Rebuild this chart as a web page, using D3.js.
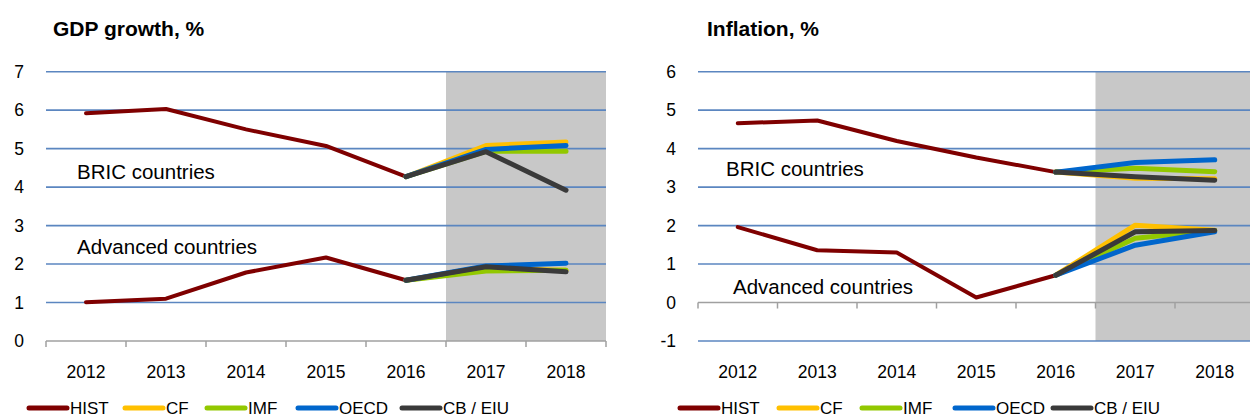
<!DOCTYPE html>
<html>
<head>
<meta charset="utf-8">
<script src="https://cdn.jsdelivr.net/npm/d3@7"></script>
<style>
  body { margin: 0; background: #fff; }
  svg { display: block; font-family: 'Liberation Sans', Arial, sans-serif; }
</style>
</head>
<body>
<svg width="1250" height="417"></svg>
<script>
// data
const years = ['2012', '2013', '2014', '2015', '2016', '2017', '2018']
const forecastYears = ['2016', '2017', '2018']
const seriesNames = ['HIST', 'CF', 'IMF', 'OECD', 'CB / EIU']
const seriesColors = ['#7f0000', '#ffc000', '#92c800', '#0066cc', '#3a3a3a']

// GDP growth
const gdpBricHist = [5.92, 6.03, 5.5, 5.07, 4.27]
const gdpBricCF = [4.27, 5.08, 5.17]
const gdpBricIMF = [4.27, 4.93, 4.93]
const gdpBricOECD = [4.27, 4.98, 5.08]
const gdpBricCB = [4.27, 4.92, 3.92]
const gdpAdvHist = [1.01, 1.1, 1.78, 2.17, 1.58]
const gdpAdvCF = [1.58, 1.88, 1.84]
const gdpAdvIMF = [1.58, 1.82, 1.84]
const gdpAdvOECD = [1.58, 1.95, 2.02]
const gdpAdvCB = [1.58, 1.93, 1.8]
const gdpTicks = [0, 1, 2, 3, 4, 5, 6, 7]

// Inflation
const infBricHist = [4.66, 4.73, 4.2, 3.77, 3.39]
const infBricCF = [3.39, 3.23, 3.22]
const infBricIMF = [3.39, 3.49, 3.4]
const infBricOECD = [3.39, 3.64, 3.71]
const infBricCB = [3.39, 3.27, 3.18]
const infAdvHist = [1.96, 1.36, 1.3, 0.13, 0.71]
const infAdvCF = [0.71, 2.01, 1.88]
const infAdvIMF = [0.71, 1.67, 1.87]
const infAdvOECD = [0.71, 1.49, 1.84]
const infAdvCB = [0.71, 1.84, 1.87]
const infTicks = [-1, 0, 1, 2, 3, 4, 5, 6]

const svg = d3.select('svg')

const drawChart = (o) => {
    const g = svg.append('g')
    const x = d3.scaleBand().domain(years).range([o.left, o.left + o.band * years.length])
    const y = d3.scaleLinear().domain([o.ticks[0], o.ticks[o.ticks.length - 1]]).range([341, 71.7])
    const cx = d => x(d) + x.bandwidth() / 2

    // title
    g.append('text')
        .attr('x', o.titleX).attr('y', 36)
        .attr('font-size', 21).attr('font-weight', 'bold')
        .text(o.title)

    // forecast shading
    g.append('rect')
        .attr('x', x('2017')).attr('y', y.range()[1])
        .attr('width', x.bandwidth() * 2).attr('height', y.range()[0] - y.range()[1])
        .attr('fill', '#c8c8c8')

    // grid
    g.selectAll('.grid').data(o.ticks.filter(t => t !== 0)).enter().append('line')
        .attr('x1', o.left).attr('x2', o.left + o.band * years.length)
        .attr('y1', d => y(d)).attr('y2', d => y(d))
        .attr('stroke', '#5b86c0').attr('stroke-width', 1.6)

    // y labels
    g.selectAll('.ylab').data(o.ticks).enter().append('text')
        .attr('x', o.left - 22).attr('y', d => y(d) + 6)
        .attr('text-anchor', 'end').attr('font-size', 17.5)
        .text(d => d)

    // x axis at zero
    const y0 = y(0)
    g.append('line')
        .attr('x1', o.left).attr('x2', o.left + o.band * years.length)
        .attr('y1', y0).attr('y2', y0)
        .attr('stroke', '#a0a0a0').attr('stroke-width', 1.5)
    const edges = years.map(d => x(d)).concat([x(years[years.length - 1]) + x.bandwidth()])
    g.selectAll('.tk').data(edges).enter().append('line')
        .attr('x1', d => d).attr('x2', d => d)
        .attr('y1', y0).attr('y2', y0 + 6)
        .attr('stroke', '#a0a0a0').attr('stroke-width', 1.5)

    const xa = g.append('g').attr('transform', 'translate(0,363)')
        .call(d3.axisBottom(x).tickSize(0))
    xa.select('.domain').remove()
    xa.selectAll('text').attr('font-size', 17.5).attr('fill', '#000')
        .style('font-family', "'Liberation Sans', Arial, sans-serif")

    const line = (xs) => d3.line().x((d, i) => cx(xs[i])).y(d => y(d))

    o.groups.forEach(grp => {
        g.append('path').attr('d', line(years)(grp.hist))
            .attr('fill', 'none').attr('stroke', seriesColors[0])
            .attr('stroke-width', 4).attr('stroke-linejoin', 'round').attr('stroke-linecap', 'round')
        grp.fc.forEach((s, i) => {
            g.append('path').attr('d', line(forecastYears)(s))
                .attr('fill', 'none').attr('stroke', seriesColors[i + 1])
                .attr('stroke-width', 5).attr('stroke-linejoin', 'round').attr('stroke-linecap', 'round')
        })
        g.append('text').attr('x', grp.labelX).attr('y', grp.labelY)
            .attr('font-size', 20.5).text(grp.label)
    })

    // legend
    seriesNames.forEach((n, i) => {
        const lx = o.legendX[i]
        g.append('line').attr('x1', lx).attr('x2', lx + 38).attr('y1', 408).attr('y2', 408)
            .attr('stroke', seriesColors[i]).attr('stroke-width', 5).attr('stroke-linecap', 'round')
        g.append('text').attr('x', lx + 41).attr('y', 414).attr('font-size', 17).text(n)
    })
}

drawChart({
    title: 'GDP growth, %', titleX: 53, left: 46, band: 80, ticks: gdpTicks,
    legendX: [29, 125, 207, 298, 402],
    groups: [
        {hist: gdpBricHist, fc: [gdpBricCF, gdpBricIMF, gdpBricOECD, gdpBricCB],
         label: 'BRIC countries', labelX: 77, labelY: 179},
        {hist: gdpAdvHist, fc: [gdpAdvCF, gdpAdvIMF, gdpAdvOECD, gdpAdvCB],
         label: 'Advanced countries', labelX: 77, labelY: 254}
    ]
})

drawChart({
    title: 'Inflation, %', titleX: 707, left: 698, band: 79.5, ticks: infTicks,
    legendX: [680, 779, 862, 955, 1053],
    groups: [
        {hist: infBricHist, fc: [infBricCF, infBricIMF, infBricOECD, infBricCB],
         label: 'BRIC countries', labelX: 726, labelY: 176},
        {hist: infAdvHist, fc: [infAdvCF, infAdvIMF, infAdvOECD, infAdvCB],
         label: 'Advanced countries', labelX: 733, labelY: 294}
    ]
})
</script>
</body>
</html>
